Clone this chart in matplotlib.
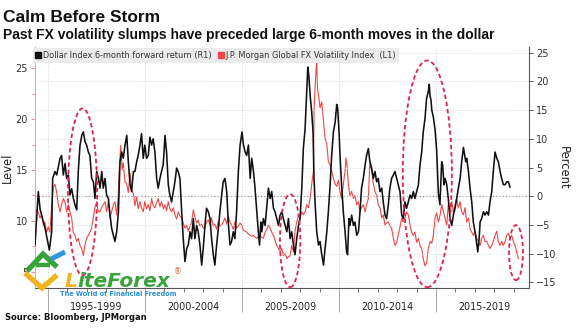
import matplotlib
matplotlib.use("Agg")
import matplotlib.pyplot as plt
from matplotlib.patches import Ellipse
from matplotlib.lines import Line2D

# ---------------- data ----------------
ret_years = [1994.33, 1994.50, 1994.59, 1994.67, 1994.85, 1995.02, 1995.07, 1995.19, 1995.24, 1995.36,
             1995.45, 1995.62, 1995.70, 1995.79, 1995.88, 1995.96, 1996.05, 1996.13, 1996.22, 1996.31,
             1996.39, 1996.48, 1996.56, 1996.65, 1996.74, 1996.82, 1996.91, 1996.99, 1997.08, 1997.16,
             1997.25, 1997.34, 1997.42, 1997.51, 1997.60, 1997.68, 1997.77, 1997.85, 1997.94, 1998.02,
             1998.11, 1998.20, 1998.28, 1998.37, 1998.45, 1998.54, 1998.63, 1998.71, 1998.80, 1998.88,
             1998.97, 1999.06, 1999.14, 1999.23, 1999.31, 1999.40, 1999.48, 1999.57, 1999.65, 1999.74,
             1999.82, 1999.91, 1999.99, 2000.08, 2000.17, 2000.25, 2000.34, 2000.42, 2000.51, 2000.60,
             2000.68, 2000.77, 2000.85, 2000.94, 2001.03, 2001.11, 2001.20, 2001.28, 2001.37, 2001.46,
             2001.54, 2001.63, 2001.71, 2001.80, 2001.89, 2001.97, 2002.06, 2002.15, 2002.23, 2002.32,
             2002.40, 2002.49, 2002.57, 2002.66, 2002.74, 2002.83, 2002.92, 2003.00, 2003.09, 2003.17,
             2003.26, 2003.35, 2003.43, 2003.52, 2003.60, 2003.69, 2003.78, 2003.86, 2003.95, 2004.03,
             2004.12, 2004.21, 2004.29, 2004.38, 2004.46, 2004.55, 2004.63, 2004.72, 2004.81, 2004.90,
             2005.00, 2005.07, 2005.16, 2005.24, 2005.33, 2005.42, 2005.50, 2005.59, 2005.67, 2005.76,
             2005.84, 2005.90, 2005.97, 2006.02, 2006.10, 2006.19, 2006.27, 2006.36, 2006.45, 2006.53,
             2006.62, 2006.70, 2006.79, 2006.88, 2006.96, 2007.05, 2007.13, 2007.22, 2007.31, 2007.39,
             2007.48, 2007.56, 2007.65, 2007.73, 2007.82, 2007.91, 2007.99, 2008.08, 2008.16, 2008.25,
             2008.34, 2008.39, 2008.44, 2008.51, 2008.59, 2008.66, 2008.71, 2008.77, 2008.85, 2008.94,
             2009.02, 2009.11, 2009.20, 2009.28, 2009.37, 2009.45, 2009.54, 2009.62, 2009.71, 2009.80,
             2009.88, 2009.93, 2010.00, 2010.05, 2010.13, 2010.22, 2010.31, 2010.39, 2010.44, 2010.51,
             2010.56, 2010.65, 2010.74, 2010.82, 2010.91, 2011.00, 2011.08, 2011.16, 2011.25, 2011.34,
             2011.42, 2011.51, 2011.59, 2011.68, 2011.77, 2011.85, 2011.94, 2012.02, 2012.11, 2012.20,
             2012.28, 2012.37, 2012.45, 2012.54, 2012.62, 2012.71, 2012.80, 2012.88, 2012.97, 2013.05,
             2013.14, 2013.23, 2013.31, 2013.40, 2013.48, 2013.57, 2013.66, 2013.74, 2013.83, 2013.91,
             2014.00, 2014.09, 2014.17, 2014.26, 2014.34, 2014.43, 2014.51, 2014.60, 2014.65, 2014.69,
             2014.74, 2014.78, 2014.86, 2014.95, 2015.03, 2015.12, 2015.20, 2015.29, 2015.34, 2015.41,
             2015.46, 2015.55, 2015.63, 2015.72, 2015.81, 2015.89, 2015.98, 2016.06, 2016.15, 2016.24,
             2016.32, 2016.41, 2016.46, 2016.53, 2016.58, 2016.67, 2016.75, 2016.84, 2016.92, 2017.01,
             2017.10, 2017.15, 2017.22, 2017.27, 2017.35, 2017.44, 2017.52, 2017.61, 2017.70, 2017.78,
             2017.87, 2017.95, 2018.04, 2018.13, 2018.21, 2018.30, 2018.38, 2018.47, 2018.56, 2018.64,
             2018.73, 2018.81]
ret_pct = [-8.5, 0.8, -2.2, -3.3, -5.6, -8.5, -9.4, -6.2, 3.1, 4.3,
           3.7, 6.6, 7.1, 3.7, 5.7, 3.1, 3.7, 0.2, 1.3, -0.4,
           -1.5, -2.4, 4.3, 8.9, 10.6, 11.2, 9.5, 8.9, 7.7, 7.1,
           3.1, 2.5, -0.4, 4.3, 3.1, 1.4, 4.3, 1.4, 3.1, 0.2,
           -0.4, -3.3, -5.6, -6.8, -7.9, -6.2, -2.7, 6.0, 7.7, 6.6,
           8.9, 10.6, 6.0, 2.0, 0.8, 4.3, 4.3, 6.0, 7.1, 8.9,
           10.9, 6.6, 8.9, 6.6, 7.1, 10.3, 8.9, 10.0, 7.7, 3.1,
           1.4, 3.1, 4.3, 5.5, 10.6, 7.7, 2.0, 0.2, -1.0, 0.8,
           2.5, 4.9, 4.3, 3.1, -2.7, -7.4, -11.4, -9.1, -8.5, -6.2,
           -7.4, -3.9, -7.4, -5.1, -6.2, -8.5, -12.0, -9.1, -5.1, -2.1,
           -2.7, -3.9, -7.4, -10.2, -12.0, -8.5, -5.6, -2.7, 0.2, 2.5,
           3.1, 0.8, -4.5, -8.5, -7.9, -6.2, -7.4, -2.7, 4.3, 8.9,
           11.2, 9.0, 7.7, 7.1, 8.9, 3.1, 6.6, 4.3, 1.4, -2.7,
           -6.2, -8.5, -4.5, -6.2, -3.9, -5.1, -2.1, 1.4, -0.4, 0.8,
           -2.1, -2.7, -3.9, -5.1, -3.3, -2.7, -3.9, -5.1, -6.2, -3.9,
           -7.4, -6.2, -8.5, -10.2, -7.4, -5.1, -3.9, 1.4, 8.3, 11.8,
           18.8, 22.5, 21.1, 17.6, 14.7, 11.2, 3.1, -1.5, -6.2, -8.5,
           -7.9, -10.2, -12.0, -9.1, -6.2, -2.7, 2.0, 7.1, 11.2, 12.9,
           16.0, 15.3, 11.2, 7.1, 2.0, -2.7, -6.2, -9.7, -10.2, -3.9,
           -5.1, -3.3, -5.1, -4.5, -6.8, -6.2, -2.7, 1.4, 3.1, 5.4,
           7.1, 8.3, 6.0, 4.9, 3.1, 4.3, 2.5, 3.1, 0.8, 1.4,
           -1.0, -3.3, -3.9, -1.5, 1.4, 3.1, 3.7, 4.3, 3.1, 2.0,
           0.8, -3.3, -3.9, -1.0, -2.1, -1.0, 0.2, -0.4, 0.8, -0.4,
           0.8, 2.0, 5.4, 7.7, 11.2, 13.5, 17.0, 18.2, 19.5, 17.5,
           16.7, 15.0, 13.8, 11.5, 8.0, 0.5, -1.5, 6.0, 5.4, 2.0,
           3.1, 2.0, -0.4, -3.9, -5.1, -3.3, -2.1, -0.4, 1.4, 3.1,
           6.0, 8.5, 7.5, 6.0, 6.6, 4.3, 1.4, -1.0, -4.5, -6.2,
           -8.5, -9.7, -7.4, -4.5, -3.9, -2.7, -3.3, -2.7, -3.3, -1.0,
           0.8, 4.3, 7.7, 6.6, 6.0, 4.3, 3.1, 2.0, 2.0, 2.5,
           2.5, 1.6]

vol_years = [1994.33, 1994.41, 1994.50, 1994.59, 1994.67, 1994.76, 1994.84, 1994.93, 1995.01, 1995.10,
             1995.19, 1995.27, 1995.36, 1995.44, 1995.53, 1995.62, 1995.70, 1995.79, 1995.87, 1995.96,
             1996.05, 1996.13, 1996.22, 1996.30, 1996.39, 1996.48, 1996.56, 1996.65, 1996.73, 1996.82,
             1996.90, 1996.99, 1997.08, 1997.16, 1997.25, 1997.33, 1997.42, 1997.51, 1997.59, 1997.68,
             1997.76, 1997.85, 1997.94, 1998.02, 1998.11, 1998.19, 1998.28, 1998.37, 1998.45, 1998.54,
             1998.62, 1998.68, 1998.75, 1998.82, 1998.88, 1998.97, 1999.05, 1999.14, 1999.23, 1999.31,
             1999.40, 1999.48, 1999.57, 1999.65, 1999.74, 1999.82, 1999.91, 1999.99, 2000.08, 2000.17,
             2000.25, 2000.34, 2000.42, 2000.51, 2000.60, 2000.68, 2000.77, 2000.85, 2000.94, 2001.03,
             2001.11, 2001.20, 2001.28, 2001.37, 2001.46, 2001.54, 2001.63, 2001.71, 2001.80, 2001.89,
             2001.97, 2002.06, 2002.15, 2002.23, 2002.32, 2002.40, 2002.49, 2002.57, 2002.66, 2002.74,
             2002.83, 2002.92, 2003.00, 2003.09, 2003.17, 2003.26, 2003.35, 2003.43, 2003.52, 2003.60,
             2003.69, 2003.78, 2003.86, 2003.95, 2004.03, 2004.12, 2004.21, 2004.29, 2004.38, 2004.46,
             2004.55, 2004.63, 2004.72, 2004.81, 2004.90, 2004.98, 2005.07, 2005.16, 2005.24, 2005.33,
             2005.42, 2005.50, 2005.59, 2005.67, 2005.76, 2005.84, 2005.93, 2006.02, 2006.10, 2006.19,
             2006.27, 2006.36, 2006.45, 2006.53, 2006.62, 2006.70, 2006.79, 2006.88, 2006.96, 2007.05,
             2007.13, 2007.22, 2007.31, 2007.39, 2007.48, 2007.56, 2007.65, 2007.73, 2007.82, 2007.91,
             2007.99, 2008.08, 2008.16, 2008.25, 2008.34, 2008.42, 2008.51, 2008.59, 2008.68, 2008.71,
             2008.77, 2008.82, 2008.85, 2008.89, 2008.94, 2009.02, 2009.11, 2009.20, 2009.28, 2009.37,
             2009.45, 2009.54, 2009.62, 2009.71, 2009.80, 2009.88, 2009.97, 2010.05, 2010.13, 2010.22,
             2010.31, 2010.36, 2010.41, 2010.48, 2010.56, 2010.65, 2010.74, 2010.82, 2010.91, 2011.00,
             2011.08, 2011.16, 2011.25, 2011.34, 2011.42, 2011.51, 2011.59, 2011.68, 2011.77, 2011.85,
             2011.94, 2012.02, 2012.11, 2012.20, 2012.28, 2012.37, 2012.45, 2012.54, 2012.62, 2012.71,
             2012.80, 2012.88, 2012.97, 2013.05, 2013.14, 2013.23, 2013.31, 2013.40, 2013.48, 2013.57,
             2013.66, 2013.74, 2013.83, 2013.91, 2014.00, 2014.09, 2014.17, 2014.26, 2014.34, 2014.43,
             2014.51, 2014.60, 2014.69, 2014.78, 2014.86, 2014.95, 2015.03, 2015.12, 2015.21, 2015.29,
             2015.38, 2015.46, 2015.55, 2015.63, 2015.72, 2015.81, 2015.89, 2015.98, 2016.06, 2016.15,
             2016.24, 2016.32, 2016.41, 2016.49, 2016.58, 2016.67, 2016.75, 2016.84, 2016.92, 2017.01,
             2017.10, 2017.18, 2017.27, 2017.35, 2017.44, 2017.52, 2017.61, 2017.70, 2017.78, 2017.87,
             2017.95, 2018.04, 2018.13, 2018.21, 2018.30, 2018.38, 2018.47, 2018.56, 2018.64, 2018.73,
             2018.81, 2018.90, 2018.98, 2019.07, 2019.16, 2019.24]
vol_level = [10.6, 11.1, 10.9, 10.3, 10.6, 9.6, 9.9, 8.9, 9.4, 8.9,
             11.6, 13.3, 13.6, 12.9, 11.6, 10.9, 11.6, 12.2, 11.9, 10.9,
             11.6, 10.9, 10.3, 8.9, 8.6, 8.0, 8.3, 7.6, 7.3, 6.6,
             7.6, 8.3, 8.6, 8.9, 9.3, 10.3, 11.3, 11.9, 10.9, 10.9,
             11.3, 11.6, 11.9, 10.9, 11.9, 10.3, 10.9, 11.6, 11.9, 10.6,
             12.5, 15.3, 17.4, 15.0, 15.7, 13.8, 13.7, 12.8, 14.7, 13.0,
             12.7, 11.5, 12.4, 11.2, 11.9, 11.3, 10.9, 11.9, 11.2, 11.6,
             11.0, 12.2, 11.5, 11.3, 11.8, 12.2, 11.4, 11.9, 11.2, 11.6,
             11.0, 11.9, 11.2, 10.9, 11.3, 10.6, 10.2, 10.9, 10.5, 10.3,
             9.8, 9.3, 9.6, 9.0, 9.5, 9.9, 11.1, 10.4, 9.8, 10.1,
             9.5, 9.7, 9.3, 9.4, 9.9, 10.1, 9.6, 10.3, 9.5, 9.7,
             9.2, 10.0, 9.5, 9.6, 9.9, 10.3, 9.7, 10.5, 9.9, 9.6,
             9.2, 9.9, 9.3, 9.5, 9.8, 9.6, 9.1, 9.0, 8.9, 8.7,
             8.6, 8.5, 8.6, 8.4, 8.3, 8.5, 8.6, 8.4, 8.3, 8.9,
             9.2, 9.6, 9.3, 8.9, 8.6, 8.1, 7.6, 7.3, 7.0, 7.3,
             6.6, 6.8, 6.3, 6.5, 6.6, 7.6, 7.0, 9.0, 9.9, 10.6,
             10.3, 10.9, 10.6, 10.9, 11.6, 11.3, 12.2, 13.6, 14.9, 20.8,
             23.3, 25.0, 25.5, 23.0, 22.4, 21.1, 21.7, 19.7, 18.1, 17.5,
             15.8, 15.5, 14.9, 14.2, 13.6, 13.4, 14.0, 12.9, 12.2, 13.6,
             14.9, 16.2, 15.5, 13.6, 12.5, 12.9, 12.2, 12.5, 11.6, 11.9,
             10.9, 11.3, 11.6, 10.9, 11.6, 12.2, 15.8, 14.9, 13.6, 12.9,
             12.5, 11.6, 11.3, 10.3, 10.6, 9.6, 9.8, 9.9, 9.5, 9.3,
             8.3, 7.6, 7.9, 8.6, 9.4, 10.3, 9.9, 10.3, 10.9, 10.6,
             9.6, 8.9, 8.6, 8.9, 7.9, 8.3, 7.6, 7.3, 6.3, 5.6,
             5.9, 7.3, 8.0, 7.8, 8.6, 10.3, 10.8, 9.9, 10.6, 11.6,
             10.9, 10.3, 9.6, 11.6, 10.9, 11.9, 10.9, 11.6, 12.2, 11.3,
             11.9, 10.9, 10.6, 11.3, 9.9, 10.3, 9.3, 8.9, 8.6, 8.9,
             8.3, 8.0, 7.6, 8.3, 8.6, 8.0, 8.0, 7.6, 7.3, 7.6,
             8.0, 8.6, 9.0, 8.0, 7.6, 8.0, 7.6, 8.0, 8.6, 8.8,
             8.3, 8.6, 8.0, 7.6, 6.9, 6.3]

period_starts = [1995, 2000, 2005, 2010, 2015]
period_labels = ["1995-1999", "2000-2004", "2005-2009", "2010-2014", "2015-2019"]
left_ticks = [5, 10, 15, 20, 25]
right_ticks = [-15, -10, -5, 0, 5, 10, 15, 20, 25]

# highlight ellipses on the right (percent) scale: (center year, center pct, width yrs, height pct)
highlights = [(1996.78, 0.75, 1.5, 29.1),
              (2007.48, -7.75, 1.05, 16.2),
              (2014.55, 3.9, 2.53, 39.5),
              (2019.12, -9.84, 0.72, 9.6)]

ret_label = "Dollar Index 6-month forward return (R1)"
vol_label = "J.P. Morgan Global FX Volatility Index  (L1)"

# ---------------- figure ----------------
W, H = 576, 329
fig = plt.figure(figsize=(W / 100, H / 100), dpi=100)
fig.patch.set_facecolor("white")
ax = fig.add_axes([35 / W, 41 / H, 494 / W, 241 / H])
ax2 = ax.twinx()

RED = "#ef4646"
BLACK = "#111111"
ELL = "#e2224c"

ax.plot(vol_years, vol_level, color=RED, lw=0.8, zorder=2)
ax2.plot(ret_years, ret_pct, color=BLACK, lw=1.15, zorder=3)

ax.set_xlim(1994.33, 2019.79)
ax.set_ylim(3.43, 27.06)
ax2.set_ylim(-16.0, 26.0)

for (cx, cy, w, h) in highlights:
    ax2.add_patch(Ellipse((cx, cy), w, h, fill=False, edgecolor=ELL, lw=1.3,
                          linestyle=(0, (2.4, 1.6)), zorder=4))

# grids
ax2.set_yticks(right_ticks)
ax2.grid(axis="y", color="#d9d9d9", ls=":", lw=0.7, zorder=0)
ax2.axhline(0, color="#8a8a8a", ls=":", lw=0.9, zorder=1)
ax.set_xticks(period_starts)
ax.set_xticks(range(1995, 2020), minor=True)
ax.grid(axis="x", which="major", color="#d0d0d0", ls=":", lw=0.7)

# spines
for s in ["top", "right"]:
    ax.spines[s].set_visible(False)
for s in ["top", "left", "bottom"]:
    ax2.spines[s].set_visible(False)
ax.spines["left"].set_color("#f3a3a3")
ax.spines["bottom"].set_color("#555555")
ax2.spines["right"].set_color("#555555")
ax.spines["left"].set_linewidth(0.8)
ax.spines["bottom"].set_linewidth(0.8)
ax2.spines["right"].set_linewidth(0.8)

# ticks
ax.set_yticks(left_ticks)
ax.set_yticks([2.5 * k for k in range(2, 11)], minor=True)
ax.tick_params(axis="y", which="both", colors="#f08a8a", labelcolor="#333333",
               labelsize=7, length=3, width=0.7, pad=2)
ax.tick_params(axis="y", which="minor", length=2)
ax2.tick_params(axis="y", colors="#555555", labelcolor="#333333", labelsize=7,
                length=3, width=0.7, pad=2)
ax.tick_params(axis="x", which="major", length=17, color="#aaaaaa", width=0.7,
               labelbottom=False)
ax.tick_params(axis="x", which="minor", length=3, color="#666666", width=0.6)

for start, lab in zip(period_starts, period_labels):
    ax.text(start + 2.5, -0.078, lab, transform=ax.get_xaxis_transform(),
            ha="center", va="center", fontsize=6.9, color="#222222")

ax.set_ylabel("Level", fontsize=8.3, color="#222222", labelpad=1)
ax2.set_ylabel("Percent", fontsize=8.3, color="#222222", rotation=270, labelpad=10)

# legend
hl = [Line2D([], [], marker="s", ls="none", color=BLACK, markersize=4.2),
      Line2D([], [], marker="s", ls="none", color=RED, markersize=4.2)]
leg = ax2.legend(hl, [ret_label, vol_label], loc="upper left",
                 bbox_to_anchor=(33 / W, 1 - 48 / H), bbox_transform=fig.transFigure,
                 ncol=2, fontsize=5.9, handlelength=0.6, handletextpad=0.25,
                 columnspacing=0.9, borderpad=0.35, borderaxespad=0, frameon=True,
                 fancybox=False, framealpha=1)
leg.get_frame().set_facecolor("#ebebeb")
leg.get_frame().set_edgecolor("none")
leg.set_zorder(10)
for t in leg.get_texts():
    t.set_color("#333333")

# titles
fig.text(3 / W, 1 - 17 / H, "Calm Before Storm", fontsize=12.5, fontweight="bold",
         family="Liberation Sans", va="center", ha="left", color="#111111")
fig.text(3 / W, 1 - 35 / H, "Past FX volatility slumps have preceded large 6-month moves in the dollar",
         fontsize=10, fontweight="bold", family="Liberation Sans", va="center", ha="left",
         color="#111111")
fig.text(5 / W, 1 - 318 / H, "Source: Bloomberg, JPMorgan", fontsize=6, fontweight="bold",
         va="center", ha="left", color="#111111")

# watermark logo
def fl(pts, color, lw):
    xs = [p[0] / W for p in pts]
    ys = [1 - p[1] / H for p in pts]
    fig.add_artist(Line2D(xs, ys, color=color, lw=lw, solid_capstyle="butt",
                          solid_joinstyle="miter", transform=fig.transFigure, zorder=20))

fl([(25, 273), (42, 288), (57, 275)], "#f2b41c", 3.8)
fl([(27, 271), (43, 254), (57, 267)], "#3aa23a", 3.8)
fl([(36, 265), (50, 265)], "#3aa23a", 3.2)
fl([(51, 259), (65, 252)], "#2e96de", 3.6)
tL = fig.text(65 / W, 1 - 287 / H, "L", fontsize=14.5, fontweight="bold", style="italic",
              color="#f2b41c", va="baseline", ha="left", zorder=22)
fig.canvas.draw()
bb = tL.get_window_extent(renderer=fig.canvas.get_renderer())
fig.text(bb.x1 / W - 0.5 / W, 1 - 287 / H, "iteForex", fontsize=14.5, fontweight="bold",
         style="italic", color="#3aa23a", va="baseline", ha="left", zorder=21)
fig.text(174 / W, 1 - 272 / H, "®", fontsize=5.5, color="#e0603a", va="center", ha="left",
         zorder=21)
fig.text(60 / W, 1 - 294 / H, "The World of Financial Freedom", fontsize=4.7,
         fontweight="bold", color="#2e8fd6", va="center", ha="left", zorder=21)

fig.savefig("out.png", dpi=100)
